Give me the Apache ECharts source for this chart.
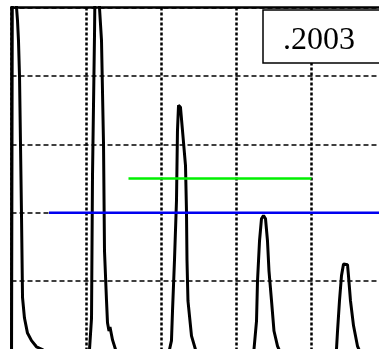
<!DOCTYPE html>
<html>
<head>
<meta charset="utf-8">
<script src="https://cdn.jsdelivr.net/npm/echarts@6/dist/echarts.min.js"></script>
<style>
	html, body { margin: 0; padding: 0; background: #fff; }
	#chart { width: 379px; height: 349px; }
</style>
</head>
<body>
<div id="chart"></div>
<script>
// retention time (grid units) and detector signal
const timeVals = [
	0.0, 0.02, 0.067, 0.08, 0.093, 0.107, 0.12, 0.133, 0.147, 0.173, 0.213, 0.267, 0.333, 0.413, 0.55, 0.8, 1.0,
	1.04, 1.067, 1.08, 1.107, 1.14, 1.173, 1.2, 1.227, 1.24, 1.267, 1.28, 1.3, 1.313, 1.347, 1.387, 1.5, 1.8, 2.05,
	2.107, 2.133, 2.147, 2.173, 2.2, 2.213, 2.227, 2.253, 2.28, 2.32, 2.333, 2.34, 2.353, 2.4, 2.453, 2.6, 2.9, 3.15,
	3.233, 3.267, 3.28, 3.307, 3.333, 3.36, 3.387, 3.413, 3.433, 3.467, 3.5, 3.547, 3.587, 3.8, 4.25,
	4.333, 4.347, 4.373, 4.4, 4.427, 4.453, 4.48, 4.493, 4.52, 4.56, 4.613, 4.653, 4.9, 5.5
]
const signalVals = [
	0.6, 11, 6.0, 5.81, 5.52, 4.99, 4.0, 3.0, 1.76, 1.46, 1.24, 1.13, 1.04, 1.0, 0.85, 0.8, 0.85,
	1.0, 1.46, 3.54, 5.62, 9, 6.0, 5.52, 4.0, 2.44, 1.71, 1.39, 1.27, 1.33, 1.14, 1.0, 0.85, 0.8, 0.85,
	1.0, 1.13, 1.57, 2.3, 3.18, 4.2, 4.57, 4.54, 4.2, 3.69, 3.03, 2.3, 1.71, 1.2, 1.0, 0.85, 0.8, 0.85,
	1.0, 1.42, 2.0, 2.59, 2.91, 2.96, 2.91, 2.59, 2.15, 1.71, 1.27, 1.05, 0.95, 0.8, 0.85,
	1.0, 1.27, 1.71, 2.08, 2.25, 2.27, 2.24, 2.08, 1.71, 1.35, 1.05, 0.95, 0.8, 0.8
]
// threshold levels
const greenX = [1.56, 4.0]
const greenY = [3.5, 3.5]
const blueX = [0.5, 6.0]
const blueY = [3.0, 3.0]
const boxLabel = '.2003'

const zip = (xs, ys) => xs.map((x, i) => [x, ys[i]])

const chart = echarts.init(document.getElementById('chart'))
chart.setOption({
	animation: false,
	backgroundColor: '#fff',
	title: {
		text: boxLabel,
		left: 263,
		top: 10,
		padding: [15, 80, 6, 20],
		borderColor: '#000',
		borderWidth: 1.5,
		backgroundColor: '#fff',
		textStyle: {
			fontFamily: 'Liberation Serif',
			fontWeight: 'normal',
			fontSize: 32,
			color: '#000'
		}
	},
	grid: {
		left: 11.5,
		top: 7.5,
		width: 450,
		height: 410.4,
		outerBoundsMode: 'none',
		containLabel: false
	},
	xAxis: {
		type: 'value',
		position: 'top',
		min: 0,
		max: 6,
		interval: 1,
		axisLine: { show: true, onZero: false, lineStyle: { color: '#000', width: 2.5 } },
		axisTick: { show: false },
		axisLabel: { show: false },
		splitLine: {
			show: true,
			lineStyle: { color: '#000', width: 2.5, type: [3, 2] }
		}
	},
	yAxis: {
		type: 'value',
		min: 0,
		max: 6,
		interval: 1,
		axisLine: { show: true, onZero: false, lineStyle: { color: '#000', width: 2.5 } },
		axisTick: { show: false },
		axisLabel: { show: false },
		splitLine: {
			show: true,
			lineStyle: { color: '#000', width: 1.5, type: [5, 3] }
		}
	},
	series: [
		{
			name: 'trace',
			type: 'line',
			showSymbol: false,
			clip: true,
			lineStyle: { color: '#000', width: 3 },
			data: zip(timeVals, signalVals)
		},
		{
			name: 'green',
			type: 'line',
			showSymbol: false,
			lineStyle: { color: '#00f000', width: 2.5 },
			data: zip(greenX, greenY)
		},
		{
			name: 'blue',
			type: 'line',
			showSymbol: false,
			lineStyle: { color: '#0000f0', width: 2.5 },
			data: zip(blueX, blueY)
		}
	]
})
</script>
</body>
</html>
